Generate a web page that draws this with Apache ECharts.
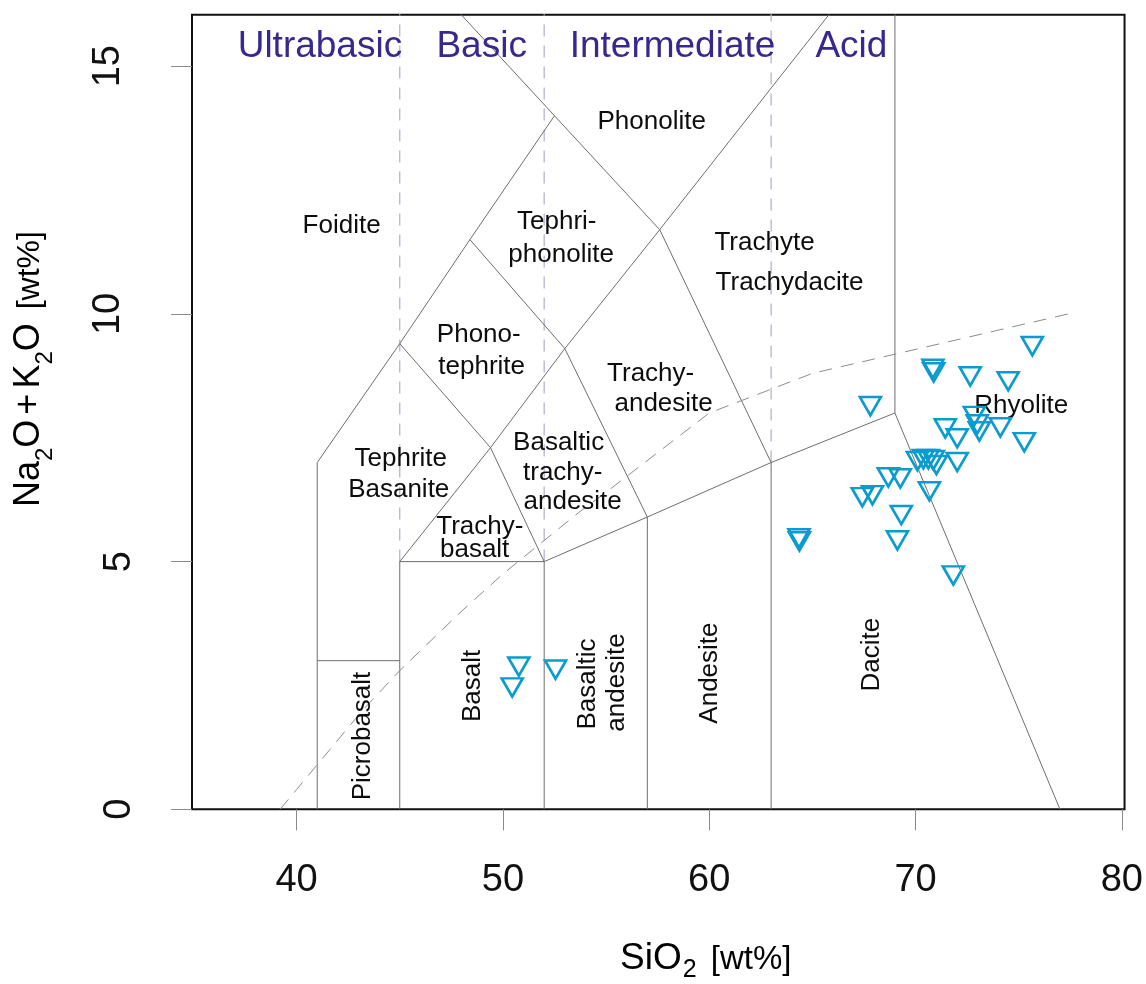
<!DOCTYPE html>
<html>
<head>
<meta charset="utf-8">
<script src="https://cdn.jsdelivr.net/npm/echarts@6/dist/echarts.min.js"></script>
<style>
  html, body { margin: 0; padding: 0; background: #ffffff; }
  #chart { width: 1146px; height: 984px; }
</style>
</head>
<body>
<div id="chart"></div>
<script>
// ---- Sample analyses (wt%) ----
const sio2 = [50.77, 50.45, 52.55, 64.35, 64.37, 67.81, 70.84, 70.88, 72.65, 74.49, 75.66,
              71.83, 69.12, 69.31, 70.67, 72.02, 67.42, 67.91, 68.68, 69.26, 70.09, 70.38,
              70.62, 70.86, 71.01, 71.44, 72.02, 72.85, 72.99, 73.09, 74.11, 75.27];
const alkalis = [2.94, 2.52, 2.88, 5.53, 5.47, 8.20, 8.95, 8.88, 8.80, 8.70, 9.41,
                 4.78, 5.49, 6.00, 6.48, 7.07, 6.36, 6.40, 6.76, 6.74, 7.09, 7.13,
                 7.13, 7.11, 7.01, 7.75, 7.55, 8.00, 7.83, 7.69, 7.77, 7.47];

// ---- Axis ticks ----
const xTicks = [40, 50, 60, 70, 80];
const yTicks = [0, 5, 10, 15];

// ---- TAS field boundaries (SiO2, Na2O+K2O) ----
const lineFoidite       = [[41, 0], [41, 7], [45, 9.4], [48.4, 11.5], [52.5, 14]];
const linePhonolite     = [[46.96, 16.5], [52.5, 14], [57.6, 11.7], [63, 7], [69, 8], [77, 0]];
const lineSubalkaline   = [[45, 0], [45, 5], [52, 5], [57, 5.9], [63, 7]];
const lineTrachyte      = [[45, 5], [49.4, 7.3], [53, 9.3], [57.6, 11.7], [61, 13.5], [66.67, 16.5]];
const lineTephrite      = [[45, 9.4], [49.4, 7.3], [52, 5]];
const linePhonotephrite = [[48.4, 11.5], [53, 9.3], [57, 5.9]];
const linePicrobasalt   = [[41, 3], [45, 3]];
const lineBasalt        = [[52, 0], [52, 5]];
const lineAndesite      = [[57, 0], [57, 5.9]];
const lineDacite        = [[63, 0], [63, 7]];
const lineRhyolite      = [[69, 8], [69, 16.5]];

// Silica-saturation class limits (ultrabasic / basic / intermediate / acid)
const divX    = [45, 52, 63];
const divBase = [5, 5, 7];
const divTop  = 16.5;

// Alkaline / subalkaline divide (Irvine & Baragar 1971)
const ibX = [39.2, 40, 43.2, 45, 48, 50, 53.7, 55, 60, 65, 77.4];
const ibY = [0, 0.4, 2, 2.8, 4, 4.75, 6, 6.4, 8, 8.8, 10];

// ---- Field names ----
const fieldNames = ['Foidite', 'Phonolite', 'Tephri-', 'phonolite', 'Trachyte', 'Trachydacite',
                    'Phono-', 'tephrite', 'Trachy-', 'andesite', 'Tephrite', 'Basanite',
                    'Basaltic', 'trachy-', 'andesite', 'Trachy-', 'basalt', 'Rhyolite'];
const fieldX = [42.18, 57.21, 52.61, 52.82, 62.68, 63.89, 48.83, 48.97, 57.16, 57.79, 45.05, 44.95,
                52.70, 52.90, 53.38, 48.88, 48.63, 75.12];
const fieldY = [11.78, 13.88, 11.86, 11.20, 11.44, 10.63, 9.58, 8.93, 8.80, 8.19, 7.08, 6.45,
                7.40, 6.80, 6.21, 5.70, 5.24, 8.15];

const verticalNames = ['Picrobasalt', 'Basalt', 'Basaltic', 'andesite', 'Andesite', 'Dacite'];
const verticalX = [43.21, 48.54, 54.11, 55.51, 60.01, 67.86];
const verticalY = [1.48, 2.49, 2.53, 2.56, 2.75, 3.12];

const groupNames = ['Ultrabasic', 'Basic', 'Intermediate', 'Acid'];
const groupX = [41.13, 48.97, 58.22, 66.89];
const groupY = [15.4, 15.4, 15.4, 15.4];

// ---- Build the chart ----
const FONT = '"Liberation Sans", Arial, Helvetica, sans-serif';
const chart = echarts.init(document.getElementById('chart'), null, { renderer: 'canvas' });

function boundary(pts) {
  return {
    type: 'line', data: pts, symbol: 'none', silent: true, clip: true,
    lineStyle: { color: '#6e6e6e', width: 1 }, z: 2
  };
}

const series = [
  lineFoidite, linePhonolite, lineSubalkaline, lineTrachyte, lineTephrite,
  linePhonotephrite, linePicrobasalt, lineBasalt, lineAndesite, lineDacite, lineRhyolite
].map(boundary);

divX.forEach((x, i) => {
  series.push({
    type: 'line', data: [[x, divBase[i]], [x, divTop]], symbol: 'none', silent: true, clip: true,
    lineStyle: { color: '#aeb0c8', width: 1.2, type: [12, 9] }, z: 1
  });
});

series.push({
  type: 'line', data: ibX.map((x, i) => [x, ibY[i]]), symbol: 'none', silent: true, clip: true,
  lineStyle: { color: '#8c8c8c', width: 1, type: [13, 9] }, z: 2
});

function textLayer(names, xs, ys, labelStyle) {
  return {
    type: 'scatter', silent: true, symbolSize: 0, z: 3,
    itemStyle: { opacity: 1 },
    data: names.map((n, i) => ({ name: n, value: [xs[i], ys[i]] })),
    label: Object.assign({ show: true, position: 'inside', formatter: p => p.name,
                           fontFamily: FONT, opacity: 1 }, labelStyle)
  };
}

series.push(textLayer(fieldNames, fieldX, fieldY, { fontSize: 26, color: '#0d0d0d' }));
series.push(textLayer(verticalNames, verticalX, verticalY, { fontSize: 26, color: '#0d0d0d', rotate: 90 }));
series.push(textLayer(groupNames, groupX, groupY, { fontSize: 37, color: '#36288f' }));

series.push({
  type: 'scatter', z: 5,
  data: sio2.map((x, i) => [x, alkalis[i]]),
  symbol: 'path://M0,0L20,0L10,17.32Z',
  symbolSize: [21, 18.2],
  symbolOffset: [0, 3],
  itemStyle: { color: 'rgba(0,0,0,0)', borderColor: '#0a9bcf', borderWidth: 2.6, opacity: 1 },
  emphasis: { disabled: true }
});

chart.setOption({
  animation: false,
  backgroundColor: '#ffffff',
  grid: {
    show: true, left: 192, top: 14.7, right: 20.7, bottom: 174.7,
    borderColor: '#111', borderWidth: 2, backgroundColor: 'transparent'
  },
  xAxis: {
    type: 'value', min: 34.93, max: 80.13,
    axisLine: { show: false }, splitLine: { show: false },
    axisTick: { show: true, length: 21, lineStyle: { color: '#8a8a8a', width: 1 }, customValues: xTicks },
    axisLabel: { customValues: xTicks, fontFamily: FONT, fontSize: 38, color: '#111', margin: 52 }
  },
  yAxis: {
    type: 'value', min: 0, max: 16.04,
    axisLine: { show: false }, splitLine: { show: false },
    axisTick: { show: true, length: 21, lineStyle: { color: '#8a8a8a', width: 1 }, customValues: yTicks },
    axisLabel: {
      customValues: yTicks, rotate: 90, margin: 53,
      formatter: v => (String(v).length > 1 ? '{d|' + v + '}' : '{s|' + v + '}'),
      rich: {
        d: { fontFamily: FONT, fontSize: 38, color: '#111', padding: [0, 0, 11, 0] },
        s: { fontFamily: FONT, fontSize: 38, color: '#111' }
      }
    }
  },
  graphic: [
    {
      type: 'text', left: 620, top: 940, silent: true,
      style: {
        text: '{m|SiO}{s|2}{w| [wt%]}',
        rich: {
          m: { fontFamily: FONT, fontSize: 37, color: '#111', verticalAlign: 'top', padding: [4, 0, 0, 0] },
          s: { fontFamily: FONT, fontSize: 25, color: '#111', verticalAlign: 'top', padding: [22, 0, 0, 1] },
          w: { fontFamily: FONT, fontSize: 33, color: '#111', verticalAlign: 'top', padding: [7, 0, 0, 5] }
        }
      }
    },
    {
      type: 'text', x: 2, y: 507, rotation: Math.PI / 2, silent: true,
      style: {
        x: 0, y: 0, align: 'left', verticalAlign: 'top',
        text: '{m|Na}{s|2}{m|O}{p|+}{m|K}{s|2}{m|O}{w| [wt%]}',
        rich: {
          m: { fontFamily: FONT, fontSize: 36, color: '#111', verticalAlign: 'top', padding: [9, 0, 0, 0] },
          p: { fontFamily: FONT, fontSize: 36, color: '#111', verticalAlign: 'top', padding: [9, 5, 0, 5] },
          s: { fontFamily: FONT, fontSize: 24, color: '#111', verticalAlign: 'top', padding: [31, 0, 0, 0] },
          w: { fontFamily: FONT, fontSize: 32, color: '#111', verticalAlign: 'top', padding: [12, 0, 0, 5] }
        }
      }
    }
  ],
  series: series
});
</script>
</body>
</html>
